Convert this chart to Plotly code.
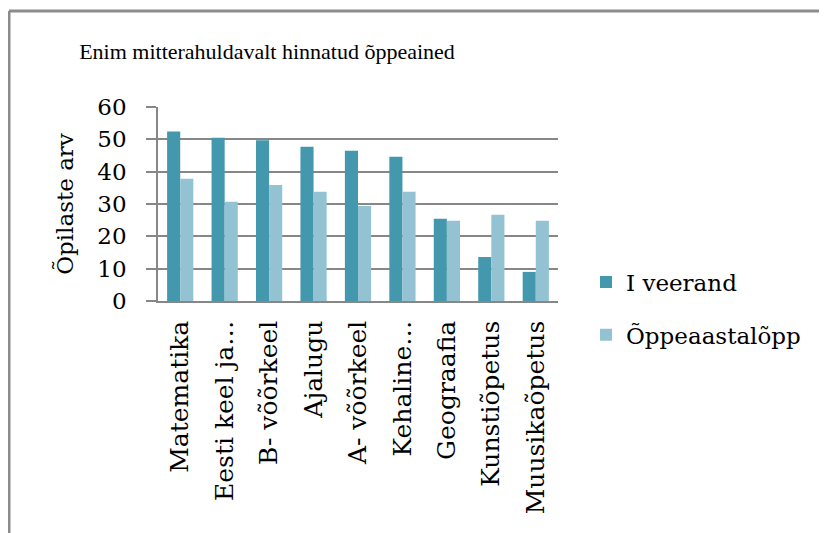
import plotly.graph_objects as go

categories = ["Matematika", "Eesti keel ja…", "B- võõrkeel", "Ajalugu", "A- võõrkeel",
              "Kehaline…", "Geograafia", "Kunstiõpetus", "Muusikaõpetus"]
i_veerand = [52.4, 50.5, 49.7, 47.7, 46.5, 44.6, 25.4, 13.6, 9.0]
aasta_lopp = [37.8, 30.7, 35.9, 33.8, 29.4, 33.8, 24.8, 26.7, 24.8]
series_names = ["I veerand", "Õppeaastalõpp"]
y_ticks = [0, 10, 20, 30, 40, 50, 60]

W, H = 827, 533
OFF = 8  # page body margin
L, R, T, B = 158 - OFF, 558 - OFF, 107 - OFF, 301 - OFF

def px(x):
    return (x - OFF - L) / (R - L)

def py(y):
    return (B - (y - OFF)) / (B - T)

font_main = "DejaVu Serif"
grid = "#878787"

fig = go.Figure()
fig.add_trace(go.Bar(x=categories, y=i_veerand, name=series_names[0],
                     marker=dict(color="#4398ae", line=dict(width=0)),
                     legendgroup="a"))
fig.add_trace(go.Bar(x=categories, y=aasta_lopp, name=series_names[1],
                     marker=dict(color="#93c3d3", line=dict(width=0)),
                     legendgroup="b"))

fig.update_layout(
    width=W, height=H,
    margin=dict(l=L, r=W - R, t=T, b=H - B),
    paper_bgcolor="white", plot_bgcolor="white",
    barmode="group", bargap=0.41, bargroupgap=0,
    title=dict(text="Enim mitterahuldavalt hinnatud õppeained",
               font=dict(family="Liberation Serif", size=22, color="black"),
               x=px(267), xanchor="center", xref="paper",
               y=1 - (51 - OFF) / H, yanchor="middle"),
    font=dict(family=font_main, color="black"),
    legend=dict(x=px(586), xanchor="left", y=py(308.5), yanchor="middle",
                font=dict(family=font_main, size=23, color="black"),
                tracegroupgap=20, traceorder="grouped",
                bgcolor="rgba(0,0,0,0)", itemwidth=30),
    showlegend=True,
    shapes=[
        dict(type="line", xref="paper", yref="paper",
             x0=px(9), x1=px(9), y0=py(11), y1=py(560),
             line=dict(color="#8c8c8c", width=3)),
        dict(type="line", xref="paper", yref="paper",
             x0=px(9), x1=px(860), y0=py(11), y1=py(11),
             line=dict(color="#8c8c8c", width=3)),
    ],
)

fig.update_yaxes(
    range=[0, 60], tickvals=y_ticks, ticktext=[str(v) for v in y_ticks],
    showgrid=True, gridcolor=grid, gridwidth=1.5,
    showline=True, linecolor=grid, linewidth=1.5,
    ticks="outside", ticklen=10, tickcolor=grid, tickwidth=1.5,
    tickfont=dict(family=font_main, size=23, color="black"),
    ticklabelstandoff=15,
    zeroline=False,
    title=dict(text="Õpilaste arv", font=dict(family=font_main, size=23, color="black"),
               standoff=17),
)
fig.update_xaxes(
    tickangle=-90,
    tickfont=dict(family=font_main, size=25, color="black"),
    showline=True, linecolor=grid, linewidth=1.5,
    ticks="", ticklabelstandoff=8,
)

fig.write_html("out.html")
